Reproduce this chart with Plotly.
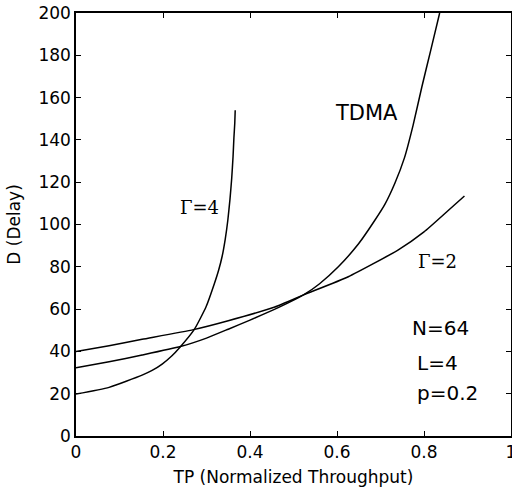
import plotly.graph_objects as go

# Data
g4_x = [0.0, 0.076, 0.152, 0.175, 0.198, 0.22, 0.24, 0.272, 0.299, 0.318, 0.328, 0.336, 0.343, 0.349, 0.354, 0.358, 0.361, 0.363, 0.365, 0.366]
g4_y = [19.8, 23.0, 28.8, 31.0, 34.0, 37.8, 42.2, 50.4, 61.1, 72.0, 78.5, 85.0, 93.0, 102.0, 112.0, 122.0, 132.0, 141.0, 148.0, 154.0]

tdma_x = [0.0, 0.076, 0.152, 0.24, 0.3, 0.35, 0.4, 0.466, 0.523, 0.56, 0.603, 0.65, 0.687, 0.71, 0.733, 0.755, 0.775, 0.795, 0.815, 0.836]
tdma_y = [32.3, 35.1, 38.3, 42.3, 46.3, 50.5, 54.8, 60.8, 66.7, 72.0, 80.0, 91.0, 102.0, 109.5, 119.5, 131.5, 147.0, 165.0, 182.0, 200.0]

g2_x = [0.0, 0.076, 0.152, 0.27, 0.35, 0.457, 0.523, 0.626, 0.741, 0.8, 0.855, 0.893]
g2_y = [39.9, 42.7, 45.7, 50.3, 54.5, 61.0, 66.7, 75.3, 88.0, 96.5, 106.5, 113.5]

x_ticks = [0, 0.2, 0.4, 0.6, 0.8, 1]
x_tick_text = ["0", "0.2", "0.4", "0.6", "0.8", "1"]
y_ticks = [0, 20, 40, 60, 80, 100, 120, 140, 160, 180, 200]

fig = go.Figure()
line_style = dict(color="black", width=1.5, shape="spline", smoothing=0.5)
for xs, ys in [(g4_x, g4_y), (tdma_x, tdma_y), (g2_x, g2_y)]:
    fig.add_trace(go.Scatter(x=xs, y=ys, mode="lines", line=line_style,
                             showlegend=False, hoverinfo="skip", cliponaxis=True))

sans = "DejaVu Sans"
serif = "DejaVu Serif"
annots = [
    dict(x=0.283, y=108, text="Γ=4", font=dict(family=serif, size=18, color="black"), xanchor="center"),
    dict(x=0.668, y=152.7, text="TDMA", font=dict(family=sans, size=21, color="black"), xanchor="center"),
    dict(x=0.832, y=82.4, text="Γ=2", font=dict(family=serif, size=18, color="black"), xanchor="center"),
    dict(x=0.768, y=51.0, text="N=64", font=dict(family=sans, size=20, color="black"), xanchor="left"),
    dict(x=0.779, y=34.5, text="L=4", font=dict(family=sans, size=20, color="black"), xanchor="left"),
    dict(x=0.780, y=20.5, text="p=0.2", font=dict(family=sans, size=20, color="black"), xanchor="left"),
]
for a in annots:
    fig.add_annotation(xref="x", yref="y", showarrow=False, yanchor="middle", **a)

axis_common = dict(showline=True, linecolor="black", linewidth=1.5, mirror="ticks",
                   ticks="inside", ticklen=5, tickwidth=1.2, tickcolor="black",
                   showgrid=False, zeroline=False, automargin=False,
                   ticklabeloverflow="allow",
                   tickfont=dict(family=sans, size=17, color="black"))

fig.update_xaxes(range=[0, 1], tickvals=x_ticks, ticktext=x_tick_text,
                 title=dict(text="TP (Normalized Throughput)", font=dict(family=sans, size=17, color="black"),
                            standoff=10),
                 **axis_common)
fig.update_yaxes(range=[0, 200], tickvals=y_ticks,
                 title=dict(text="D (Delay)", font=dict(family=sans, size=17, color="black"),
                            standoff=13),
                 **axis_common)

fig.update_layout(width=512, height=490, margin=dict(l=76, r=1, t=13, b=54),
                  paper_bgcolor="white", plot_bgcolor="white")

# remove the default 8px page margin so the figure fills the window
fig.write_html("out.html", config={"displayModeBar": False},
               post_script="document.body.style.margin='0px';")
